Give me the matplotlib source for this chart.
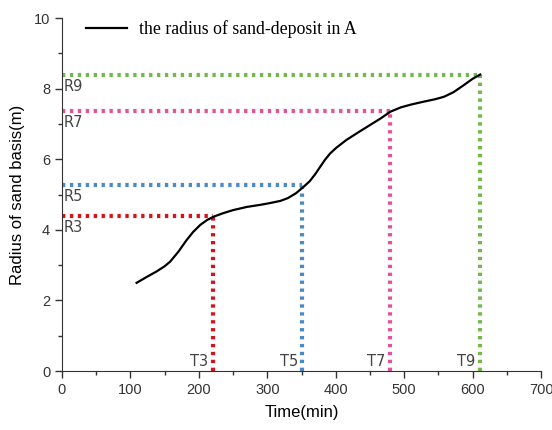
import matplotlib
matplotlib.use('Agg')
import matplotlib.pyplot as plt
from matplotlib.ticker import MultipleLocator

# radius of sand-deposit in A
time_min = [109, 125, 138, 150, 158, 170, 182, 192, 202, 212, 221, 235, 250, 270, 290, 304, 319,
            330, 342, 353, 362, 370, 377, 384, 392, 401, 415, 431, 450, 465, 480, 495, 510, 528, 545,
            558, 572, 587, 600, 611]
radius = [2.50, 2.68, 2.82, 2.97, 3.10, 3.38, 3.71, 3.95, 4.14, 4.28, 4.37, 4.47, 4.56, 4.65, 4.71,
          4.76, 4.82, 4.90, 5.04, 5.22, 5.38, 5.58, 5.78, 5.98, 6.17, 6.33, 6.54, 6.74, 6.97, 7.15, 7.35,
          7.47, 7.55, 7.63, 7.70, 7.77, 7.90, 8.10, 8.28, 8.40]

# marked points: label suffix, time, radius, colour
mark_ids = ['3', '5', '7', '9']
mark_t = [220, 351, 479, 610]
mark_r = [4.40, 5.27, 7.37, 8.40]
mark_colors = ['#d8121c', '#4a8bc6', '#e1539c', '#74b84b']

fig = plt.figure(figsize=(5.52, 4.30), dpi=100)
ax = fig.add_axes([0.1123, 0.137, 0.868, 0.821])

for t, r, c, k in zip(mark_t, mark_r, mark_colors, mark_ids):
    ax.plot([0, t], [r, r], color=c, lw=3, linestyle=(0, (0.8, 1.1)), solid_capstyle='butt', zorder=2)
    ax.plot([t, t], [0, r], color=c, lw=3, linestyle=(0, (0.8, 1.1)), solid_capstyle='butt', zorder=2)
    ax.text(3, r - 0.12, 'R' + k, ha='left', va='top', fontsize=10.5, color='#444444',
            family='Liberation Sans Narrow')
    ax.text(t - 6, 0.06, 'T' + k, ha='right', va='bottom', fontsize=10.5, color='#444444',
            family='Liberation Sans Narrow')

ax.plot(time_min, radius, color='black', lw=1.6, label='the radius of sand-deposit in A', zorder=3)

ax.set_xlim(0, 700)
ax.set_ylim(0, 10)
ax.xaxis.set_major_locator(MultipleLocator(100))
ax.xaxis.set_minor_locator(MultipleLocator(50))
ax.yaxis.set_major_locator(MultipleLocator(2))
ax.yaxis.set_minor_locator(MultipleLocator(1))
ax.tick_params(which='major', direction='out', length=5, width=1, labelsize=10.5, colors='#333333')
ax.tick_params(which='minor', direction='out', length=3, width=1, colors='#333333')
for lab in ax.get_xticklabels() + ax.get_yticklabels():
    lab.set_family('Liberation Sans')
for s in ['top', 'right']:
    ax.spines[s].set_visible(False)
for s in ['left', 'bottom']:
    ax.spines[s].set_color('#333333')

ax.set_xlabel('Time(min)', fontsize=12, family='Liberation Sans', labelpad=6)
ax.set_ylabel('Radius of sand basis(m)', fontsize=12, family='Liberation Sans', labelpad=6)

leg = ax.legend(loc='upper left', frameon=False, handlelength=2.3, handletextpad=0.7,
                borderaxespad=0.0, prop={'family': 'Liberation Serif', 'size': 12.8},
                bbox_to_anchor=(0.035, 1.015))

fig.savefig('out.png', dpi=100)
